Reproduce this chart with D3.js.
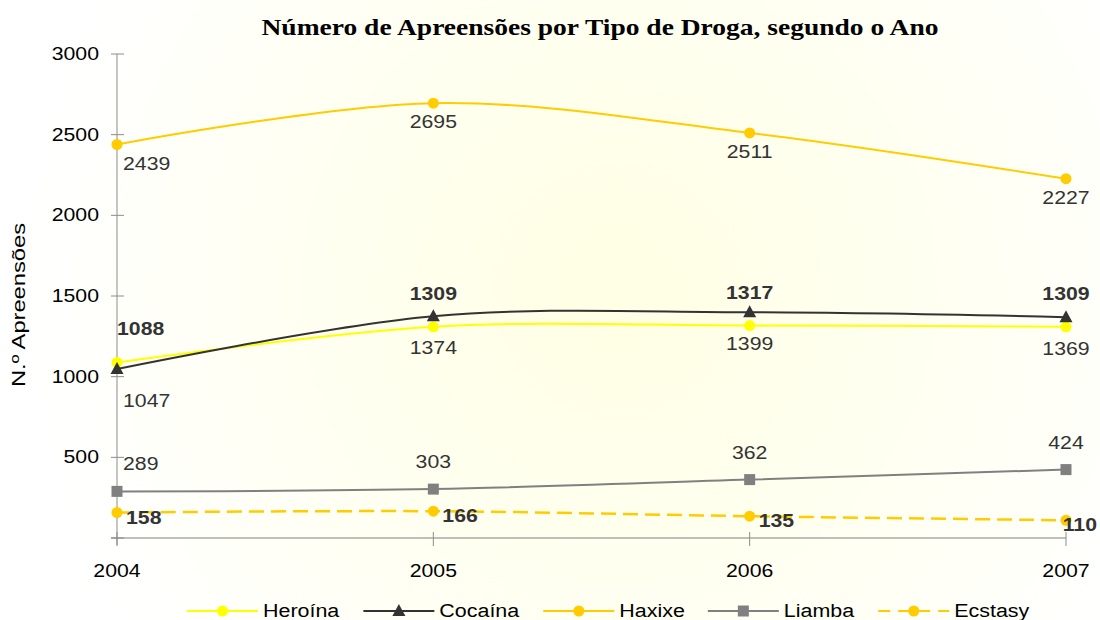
<!DOCTYPE html>
<html><head><meta charset="utf-8">
<script src="https://cdn.jsdelivr.net/npm/d3@7"></script>
<style>body{margin:0;background:#fff}svg{display:block;font-family:"Liberation Sans",Arial,sans-serif}</style>
</head><body>
<svg id="c" width="1100" height="620"></svg>
<script>
const years = ["2004","2005","2006","2007"];
const heroina = [1088,1309,1317,1309];
const cocaina = [1047,1374,1399,1369];
const haxixe  = [2439,2695,2511,2227];
const liamba  = [289,303,362,424];
const ecstasy = [158,166,135,110];
const yTicks  = [0,500,1000,1500,2000,2500,3000];
const seriesNames = ["Heroína","Cocaína","Haxixe","Liamba","Ecstasy"];
const titleText = "Número de Apreensões por Tipo de Droga, segundo o Ano";
const yTitle = "N.º Apreensões";

const series = [
  {name:"Haxixe", values:haxixe, color:"#FFCC00", marker:"circle", mfill:"#FFCC00", dash:null, label:{pos:"below",dy:19,bold:false}},
  {name:"Liamba", values:liamba, color:"#808080", marker:"square", mfill:"#808080", dash:null, label:{pos:"above",dy:-27,bold:false}},
  {name:"Ecstasy", values:ecstasy, color:"#FFCC00", marker:"circle", mfill:"#FFCC00", dash:"15,7", label:{pos:"right",dy:5,bold:true}},
  {name:"Heroína", values:heroina, color:"#FFFF00", marker:"circle", mfill:"#FFFF00", dash:null, label:{pos:"above",dy:-33,bold:true}},
  {name:"Cocaína", values:cocaina, color:"#333333", marker:"triangle", mfill:"#333333", dash:null, label:{pos:"below",dy:32,bold:false}}
];

const svg = d3.select("#c");
const defs = svg.append("defs");
const rg = defs.append("radialGradient").attr("id","bg").attr("gradientUnits","userSpaceOnUse")
  .attr("cx",620).attr("cy",290).attr("r",600);
rg.append("stop").attr("offset","0").attr("stop-color","#FFFFE4");
rg.append("stop").attr("offset","0.55").attr("stop-color","#FFFFF2");
rg.append("stop").attr("offset","1").attr("stop-color","#FFFFFF");
svg.append("rect").attr("width",1100).attr("height",620).attr("fill","url(#bg)");

function stretch(sel,k){ sel.each(function(){ const w=this.getComputedTextLength(); this.setAttribute("textLength",w*k); this.setAttribute("lengthAdjust","spacingAndGlyphs"); }); }

const x = d3.scalePoint().domain(years).range([117,1066]);
const y = d3.scaleLinear().domain([0,3000]).range([538,54]);

// y axis
svg.append("line").attr("x1",117).attr("x2",117).attr("y1",y(3000)).attr("y2",545).attr("stroke","#A6A6A6").attr("stroke-width",1.3);
svg.selectAll(".yt").data(yTicks).enter().append("line")
  .attr("x1",111).attr("x2",124).attr("y1",d=>y(d)).attr("y2",d=>y(d)).attr("stroke","#8C8C8C").attr("stroke-width",1);
const ytl = svg.selectAll(".ytl").data(yTicks.filter(d=>d>0)).enter().append("text")
  .attr("x",99).attr("y",d=>y(d)).attr("text-anchor","end").attr("dominant-baseline","central")
  .attr("font-size",18).attr("fill","#000").text(d=>d);
stretch(ytl,1.18);

// x axis
svg.append("line").attr("x1",111).attr("x2",1066).attr("y1",y(0)).attr("y2",y(0)).attr("stroke","#808080").attr("stroke-width",1.2);
svg.selectAll(".xt").data(years).enter().append("line")
  .attr("x1",d=>x(d)).attr("x2",d=>x(d)).attr("y1",y(0)-6).attr("y2",y(0)+8).attr("stroke","#8C8C8C").attr("stroke-width",1);
const xtl = svg.selectAll(".xtl").data(years).enter().append("text")
  .attr("x",d=>x(d)).attr("y",571).attr("text-anchor","middle").attr("dominant-baseline","central")
  .attr("font-size",18).attr("fill","#000").text(d=>d);
stretch(xtl,1.18);

// title
svg.append("text").attr("x",600).attr("y",35).attr("text-anchor","middle")
  .style("font-family","'Liberation Serif','Times New Roman',serif").attr("font-weight","bold").attr("font-size",24)
  .attr("textLength",677).attr("lengthAdjust","spacingAndGlyphs").text(titleText);

// y title
svg.append("text").attr("transform","translate(25,305) rotate(-90)").attr("text-anchor","middle")
  .attr("font-size",18).attr("fill","#000").attr("textLength",164).attr("lengthAdjust","spacingAndGlyphs").text(yTitle);

const line = d3.line().x((d,i)=>x(years[i])).y(d=>y(d)).curve(d3.curveCardinal.tension(0));

function drawMarker(g,type,cx,cy,fill){
  if(type==="circle") g.append("circle").attr("cx",cx).attr("cy",cy).attr("r",5.5).attr("fill",fill);
  else if(type==="square") g.append("rect").attr("x",cx-5.5).attr("y",cy-5.5).attr("width",11).attr("height",11).attr("fill",fill);
  else g.append("path").attr("d",`M${cx},${cy-7}L${cx+6.5},${cy+5}L${cx-6.5},${cy+5}Z`).attr("fill",fill);
}

series.forEach(s=>{
  const g = svg.append("g");
  g.append("path").attr("d",line(s.values)).attr("fill","none").attr("stroke",s.color)
    .attr("stroke-width",s.dash?2.5:2).attr("stroke-dasharray",s.dash);
  s.values.forEach((v,i)=>drawMarker(g,s.marker,x(years[i]),y(v),s.mfill));
});

// labels
series.forEach(s=>{
  s.values.forEach((v,i)=>{
    const px = x(years[i]), py = y(v);
    const t = svg.append("text").attr("font-size",18).attr("fill","#333")
      .attr("font-weight",s.label.bold?"bold":"normal").attr("dominant-baseline","central")
      .attr("y",py+s.label.dy).text(v);
    let tx, anchor;
    if(s.label.pos==="right"){ tx=px+9; anchor="start"; }
    else { tx=px; anchor="middle"; }
    t.attr("x",tx).attr("text-anchor",anchor);
    stretch(t,1.18);
    const bb = t.node().getBBox();
    let shift = 0;
    const minX = s.label.bold && s.label.pos==="above" ? 117 : 123;
    if(bb.x < minX) shift = minX-bb.x;
    if(bb.x+bb.width > 1097) shift = 1097-(bb.x+bb.width);
    if(shift) t.attr("x",tx+shift);
  });
});

// legend
const legendOrder = [
  {name:seriesNames[0], color:"#FFFF00", marker:"circle", dash:null},
  {name:seriesNames[1], color:"#333333", marker:"triangle", dash:null},
  {name:seriesNames[2], color:"#FFCC00", marker:"circle", dash:null},
  {name:seriesNames[3], color:"#808080", marker:"square", dash:null},
  {name:seriesNames[4], color:"#FFCC00", marker:"circle", dash:"12,8"}
];
let lx = 187; const ly = 611;
legendOrder.forEach(l=>{
  const g = svg.append("g");
  g.append("line").attr("x1",lx).attr("x2",lx+71).attr("y1",ly).attr("y2",ly).attr("stroke",l.color).attr("stroke-width",2.2).attr("stroke-dasharray",l.dash);
  drawMarker(g,l.marker,lx+35.5,ly,l.color);
  const t = g.append("text").attr("x",lx+76).attr("y",ly).attr("dominant-baseline","central").attr("font-size",18).attr("fill","#000").text(l.name);
  stretch(t,1.19);
  lx += 76 + t.node().getBBox().width + 23;
});
</script>
</body></html>
